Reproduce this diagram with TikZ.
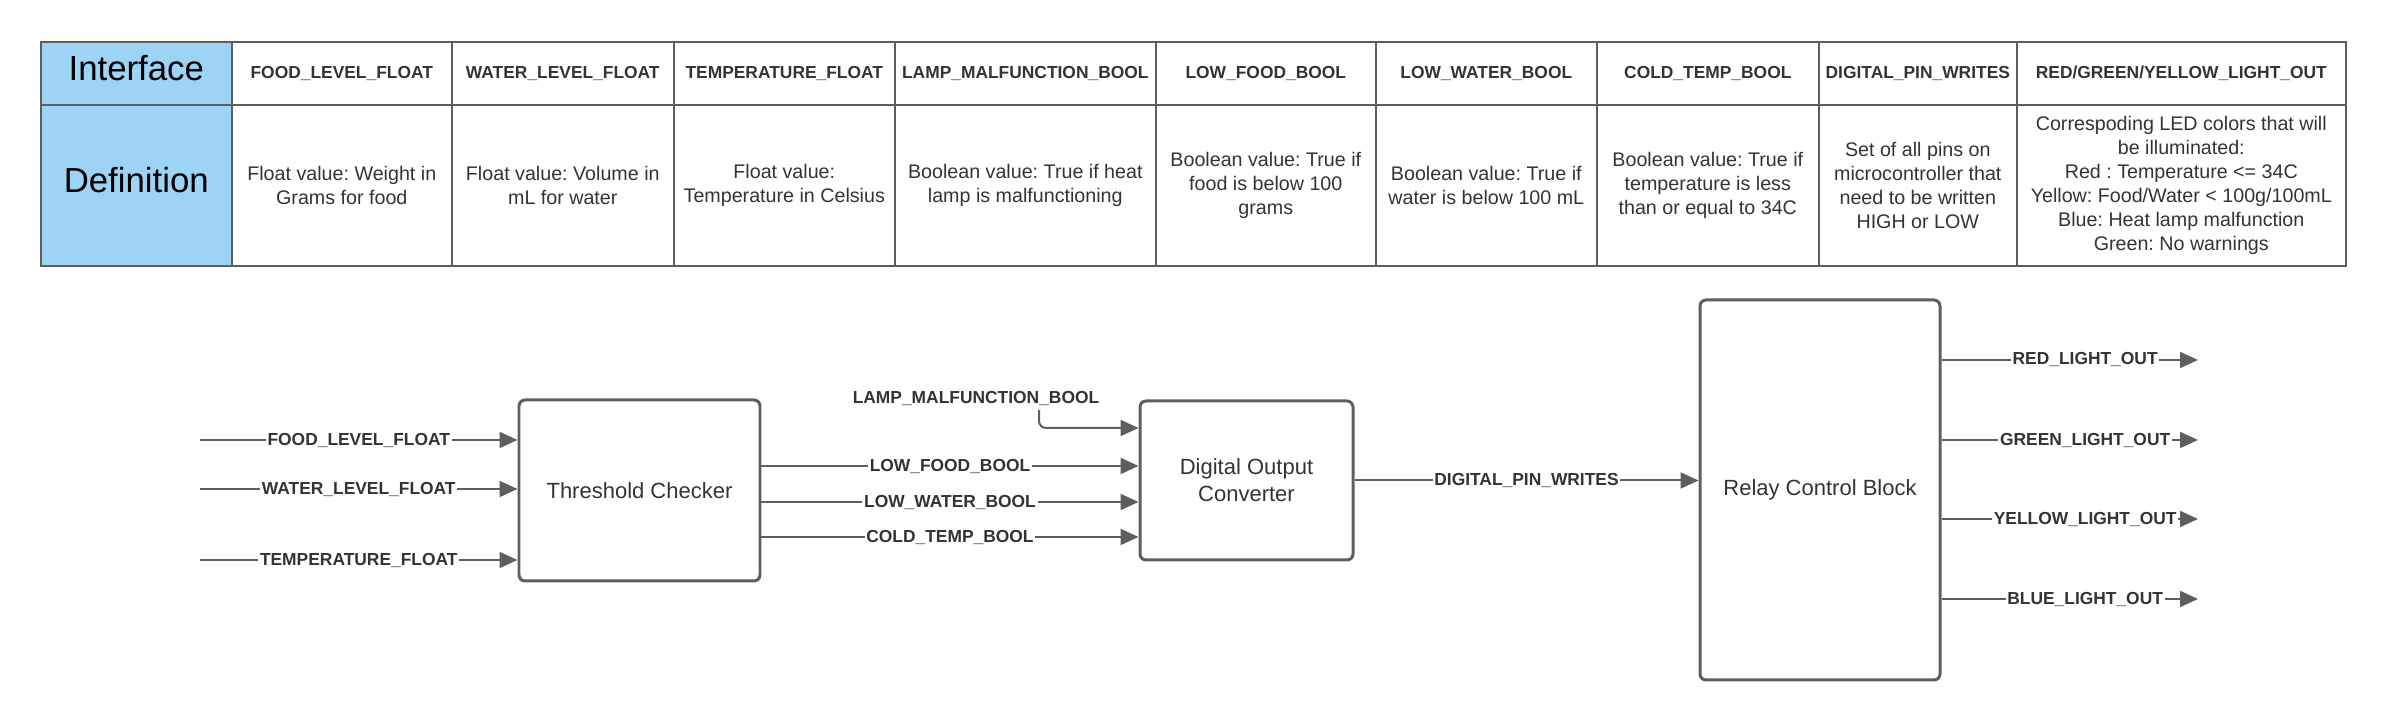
\documentclass[tikz,border=0pt]{standalone}
\usepackage{fontspec}
\setmainfont{Liberation Sans}
\usepackage{tikz}
\usetikzlibrary{positioning}
\usetikzlibrary{arrows.meta,shapes}
\definecolor{linegray}{RGB}{94,94,94}
\definecolor{textgray}{RGB}{51,51,51}
\definecolor{headblue}{RGB}{157,211,245}
\tikzstyle{cell}=[rectangle,draw=linegray,line width=0.45pt,anchor=north west,inner sep=0pt,align=center,text=textgray]
\tikzstyle{headcell}=[cell,minimum height=0.63cm,font=\fontsize{4.95}{6}\selectfont\bfseries]
\tikzstyle{defcell}=[cell,minimum height=1.61cm,font=\fontsize{5.6}{6.83}\selectfont]
\tikzstyle{titlecell}=[cell,fill=headblue,text=black,minimum width=1.91cm,text depth=0.1cm,font=\fontsize{9.9}{11.9}\selectfont]
\tikzstyle{block}=[rectangle,draw=linegray,line width=0.85pt,rounded corners=1.7pt,align=center,text=textgray,font=\fontsize{6.26}{7.68}\selectfont]
\tikzstyle{edge} = [draw,line width=0.57pt,linegray,-{Triangle[length=0.18cm,width=0.16cm]}]
\tikzstyle{signal} = [fill=white,inner sep=0.5pt,text=textgray,font=\fontsize{4.95}{6}\selectfont\bfseries]

\begin{document}
\frenchspacing
\begin{tikzpicture}[scale=1.]

  \useasboundingbox (0,0) rectangle (23.86,-7.20);

  % table
  \node[titlecell, minimum height=0.63cm] (interface) at (0.40,-0.41) {Interface};
  \node[titlecell, minimum height=1.61cm] (definition) at (0.40,-1.04) {Definition};

   \foreach \x/\w/\name/\label in { 2.31/2.20/hfood/FOOD\_LEVEL\_FLOAT, 4.51/2.22/hwater/WATER\_LEVEL\_FLOAT,
          6.73/2.21/htemp/TEMPERATURE\_FLOAT, 8.94/2.61/hlamp/LAMP\_MALFUNCTION\_BOOL,
          11.55/2.20/hlowfood/LOW\_FOOD\_BOOL, 13.75/2.21/hlowwater/LOW\_WATER\_BOOL,
          15.96/2.22/hcold/COLD\_TEMP\_BOOL, 18.18/1.98/hpins/DIGITAL\_PIN\_WRITES,
          20.16/3.29/hlight/{RED/GREEN/YELLOW\_LIGHT\_OUT}}
          \node[headcell, minimum width=\w cm] (\name) at (\x, -0.41) {\label};

   \foreach \x/\w/\name/\label in { 2.31/2.20/dfood/{Float value: Weight in\\Grams for food},
          4.51/2.22/dwater/{Float value: Volume in\\mL for water},
          6.73/2.21/dtemp/{Float value:\\Temperature in Celsius},
          8.94/2.61/dlamp/{Boolean value: True if heat\\lamp is malfunctioning},
          11.55/2.20/dlowfood/{Boolean value: True if\\food is below 100\\grams},
          13.75/2.21/dlowwater/{Boolean value: True if\\water is below 100 mL},
          15.96/2.22/dcold/{Boolean value: True if\\temperature is less\\than or equal to 34C},
          18.18/1.98/dpins/{Set of all pins on\\microcontroller that\\need to be written\\HIGH or LOW},
          20.16/3.29/dlight/{Correspoding LED colors that will\\be illuminated:\\Red : Temperature <= 34C\\Yellow: Food/Water < 100g/100mL\\Blue: Heat lamp malfunction\\Green: No warnings}}
          \node[defcell, minimum width=\w cm] (\name) at (\x, -1.04) {\label};

  % blocks
  \node[block, minimum width=2.41cm, minimum height=1.81cm] (tc) at (6.395,-4.905) {Threshold Checker};
  \node[block, minimum width=2.13cm, minimum height=1.59cm] (doc) at (12.465,-4.805) {Digital Output\\Converter};
  \node[block, minimum width=2.40cm, minimum height=3.80cm] (rcb) at (18.20,-4.90) {Relay Control Block};

  \foreach \y/\name/\label in {4.40/food/FOOD\_LEVEL\_FLOAT, 4.89/water/WATER\_LEVEL\_FLOAT, 5.60/temp/TEMPERATURE\_FLOAT}{
         \coordinate (\name) at (2.00,-\y);
         \path[edge] (\name) -- node[signal] {\label} (\name -| tc.west);
  }

  \foreach \y/\label in {4.66/LOW\_FOOD\_BOOL, 5.02/LOW\_WATER\_BOOL, 5.37/COLD\_TEMP\_BOOL}
         \path[edge] (tc.east |- 0,-\y) -- node[signal] {\label} (doc.west |- 0,-\y);

  \node[signal, fill=none] (lamp) at (9.76,-3.98) {LAMP\_MALFUNCTION\_BOOL};
  \coordinate (lampin) at (10.39,-4.10);
  \path[edge, rounded corners=2pt] (lampin) |- (doc.west |- 0,-4.28);

  \path[edge] (doc.east) -- node[signal] {DIGITAL\_PIN\_WRITES} (doc.east -| rcb.west);

  \foreach \y/\name/\label in {3.60/red/RED\_LIGHT\_OUT, 4.40/green/GREEN\_LIGHT\_OUT,
         5.19/yellow/YELLOW\_LIGHT\_OUT, 5.99/blue/BLUE\_LIGHT\_OUT}{
         \coordinate (\name) at (21.98,-\y);
         \path[edge] (rcb.east |- \name) -- node[signal, pos=0.56] {\label} (\name);
  }

\end{tikzpicture}
\end{document}
